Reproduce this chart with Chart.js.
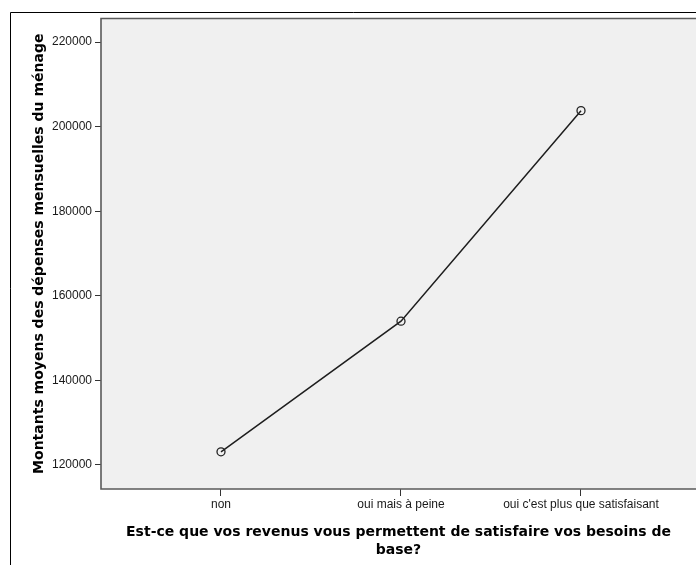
<!DOCTYPE html>
<html><head><meta charset="utf-8">
<script src="https://cdn.jsdelivr.net/npm/chart.js@4/dist/chart.umd.min.js"></script>
<style>
html,body{margin:0;padding:0;background:#fff;overflow:hidden;width:696px;height:565px}
canvas{display:block}
</style>
</head><body><canvas id="c" width="696" height="565" style="width:696px;height:565px"></canvas>
<script>
const categories = ["non", "oui mais à peine", "oui c'est plus que satisfaisant"];
const meanSpending = [123100, 154000, 203800];
const yTicks = [120000, 140000, 160000, 180000, 200000, 220000];
const xTitle = ["Est-ce que vos revenus vous permettent de satisfaire vos besoins de", "base?"];
const yTitle = "Montants moyens des dépenses mensuelles du ménage";

const framePlugin = {
  id: 'frame',
  beforeDraw(chart) {
    const ctx = chart.ctx, a = chart.chartArea;
    ctx.save();
    ctx.fillStyle = '#fff';
    ctx.fillRect(0, 0, chart.width, chart.height);
    ctx.strokeStyle = '#000';
    ctx.lineWidth = 1;
    ctx.beginPath();
    ctx.moveTo(10.5, chart.height);
    ctx.lineTo(10.5, 12.5);
    ctx.lineTo(chart.width, 12.5);
    ctx.stroke();
    ctx.fillStyle = '#f0f0f0';
    ctx.fillRect(a.left, a.top, chart.width - a.left, a.bottom - a.top);
    ctx.restore();
  },
  beforeDatasetsDraw(chart) {
    const ctx = chart.ctx, a = chart.chartArea;
    ctx.save();
    ctx.strokeStyle = '#5a5a5a';
    ctx.lineWidth = 1.6;
    ctx.beginPath();
    ctx.moveTo(chart.width, a.top);
    ctx.lineTo(a.left, a.top);
    ctx.lineTo(a.left, a.bottom);
    ctx.lineTo(chart.width, a.bottom);
    ctx.stroke();
    ctx.restore();
  }
};

function noPad(s) { s.paddingLeft = 0; s.paddingRight = 0; s.paddingTop = 0; s.paddingBottom = 0; }

new Chart(document.getElementById('c'), {
  type: 'line',
  data: {
    datasets: [{
      data: categories.map((c, i) => ({x: i, y: meanSpending[i]})),
      borderColor: '#1e1e1e',
      borderWidth: 1.5,
      tension: 0,
      pointRadius: 4,
      pointBorderWidth: 1.3,
      pointBorderColor: '#222',
      pointBackgroundColor: 'rgba(0,0,0,0)',
      clip: false
    }]
  },
  options: {
    responsive: false,
    devicePixelRatio: 1,
    animation: false,
    layout: {autoPadding: false, padding: {top: 18.5, right: 0, left: 0, bottom: 0}},
    plugins: {legend: {display: false}, tooltip: {enabled: false}},
    scales: {
      x: {
        type: 'linear',
        min: -2/3,
        max: 2.6389,
        afterBuildTicks(s) { s.ticks = categories.map((c, i) => ({value: i})); },
        afterFit(s) { s.height = 76; noPad(s); },
        grid: {display: true, drawOnChartArea: false, drawTicks: true, tickLength: 7, color: '#333', lineWidth: 1},
        border: {display: false},
        ticks: {
          padding: 1,
          maxRotation: 0,
          autoSkip: false,
          color: '#1a1a1a',
          font: {family: 'Liberation Sans, Arial, sans-serif', size: 12},
          callback: (v) => categories[v] ?? ''
        },
        title: {
          display: true,
          text: xTitle,
          color: '#000',
          font: {family: 'DejaVu Sans', weight: 'bold', size: 14, lineHeight: '18px'},
          padding: {top: 0, bottom: 5.5}
        }
      },
      y: {
        min: 114300,
        max: 225600,
        afterBuildTicks(s) { s.ticks = yTicks.map(v => ({value: v})); },
        afterFit(s) { s.width = 101; noPad(s); },
        grid: {display: true, drawOnChartArea: false, drawTicks: true, tickLength: 6, color: '#333', lineWidth: 1},
        border: {display: false},
        ticks: {
          padding: 3,
          color: '#1a1a1a',
          font: {family: 'Liberation Sans, Arial, sans-serif', size: 12},
          callback: (v) => String(v)
        },
        title: {
          display: true,
          text: yTitle,
          color: '#000',
          font: {family: 'DejaVu Sans', weight: 'bold', size: 14, lineHeight: 1.2},
          padding: {top: 30.6, bottom: 0}
        }
      }
    }
  },
  plugins: [framePlugin]
});
</script>
</body></html>
